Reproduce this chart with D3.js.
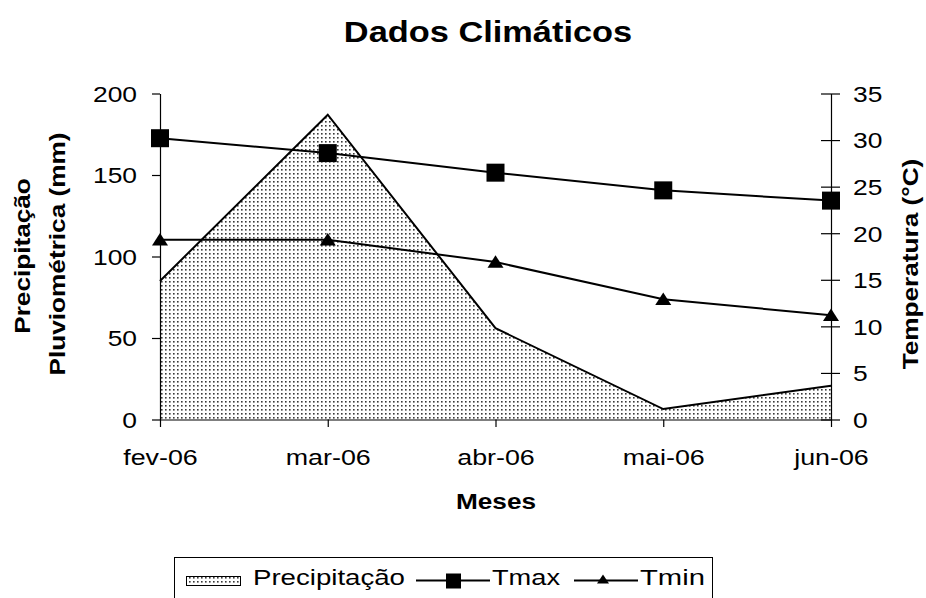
<!DOCTYPE html>
<html>
<head>
<meta charset="utf-8">
<script src="https://cdn.jsdelivr.net/npm/d3@7"></script>
<style>
  html, body { margin: 0; padding: 0; background: #fff; }
  svg { display: block; font-family: "Liberation Sans", Arial, sans-serif; }
</style>
</head>
<body>
<svg id="chart" width="926" height="598"></svg>
<script>
// Monthly climate data
const months = ["fev-06", "mar-06", "abr-06", "mai-06", "jun-06"];
const precipitacao = [85, 187, 56, 6.4, 20.7];     // mm
const tmax = [30.2, 28.6, 26.5, 24.6, 23.5];       // °C
const tmin = [19.3, 19.3, 16.9, 12.9, 11.2];       // °C
const precipTicks = [0, 50, 100, 150, 200];
const tempTicks = [0, 5, 10, 15, 20, 25, 30, 35];

const svg = d3.select("#chart");
const plotLeft = 160, plotRight = 831, plotTop = 93.5, plotBottom = 419.5;

const x = d3.scalePoint().domain(months).range([plotLeft, plotRight]).padding(0);
const yP = d3.scaleLinear().domain([0, 200]).range([plotBottom, plotTop]);
const yT = d3.scaleLinear().domain([0, 35]).range([plotBottom, plotTop]);

// Widen glyphs along the text direction
function stretch(sel, s, rot) {
  sel.each(function () {
    const t = d3.select(this);
    const tx = +t.attr("x") || 0, ty = +t.attr("y") || 0;
    t.attr("x", 0).attr("y", 0)
     .attr("transform", `translate(${tx},${ty})` + (rot ? ` rotate(${rot})` : "") + ` scale(${s},1)`);
  });
}

// Dotted fill pattern
const defs = svg.append("defs");
const pat = defs.append("pattern").attr("id", "dots")
  .attr("patternUnits", "userSpaceOnUse").attr("width", 4).attr("height", 4);
pat.append("rect").attr("width", 4).attr("height", 4).attr("fill", "#fff");
pat.append("rect").attr("x", 1).attr("y", 1).attr("width", 1.6).attr("height", 1.6).attr("fill", "#3a3a3a");

// Title
svg.append("text").attr("x", 488).attr("y", 41.5)
  .attr("text-anchor", "middle").attr("font-size", 30).attr("font-weight", "bold")
  .text("Dados Climáticos").call(stretch, 1.146);

// Precipitation area
const area = d3.area().x((d, i) => x(months[i])).y0(plotBottom).y1(d => yP(d));
svg.append("path").datum(precipitacao).attr("d", area).attr("fill", "url(#dots)");
const topLine = d3.line().x((d, i) => x(months[i])).y(d => yP(d));
svg.append("path").datum(precipitacao).attr("d", topLine)
  .attr("fill", "none").attr("stroke", "#000").attr("stroke-width", 2);

// Axes
const axisStyle = g => {
  g.selectAll("path.domain").attr("stroke", "#000").attr("stroke-width", 1.2);
  g.selectAll(".tick line").attr("stroke", "#000").attr("stroke-width", 1.2);
  g.selectAll("text").attr("fill", "#000").attr("font-size", 22)
    .attr("font-family", "'Liberation Sans', Arial, sans-serif");
};

const gL = svg.append("g").attr("transform", `translate(${plotLeft},0)`)
  .call(d3.axisLeft(yP).tickValues(precipTicks).tickSize(8).tickSizeOuter(0).tickPadding(15))
  .call(axisStyle);
gL.selectAll(".tick text").attr("dy", null).attr("y", 7.8).call(stretch, 1.2);

const gR = svg.append("g").attr("transform", `translate(${plotRight},0)`)
  .call(d3.axisRight(yT).tickValues(tempTicks).tickSize(9).tickSizeOuter(0).tickPadding(13))
  .call(axisStyle);
gR.selectAll(".tick line").attr("x1", -10);
gR.selectAll(".tick text").attr("dy", null).attr("y", 7.8).call(stretch, 1.2);

const gX = svg.append("g").attr("transform", `translate(0,${plotBottom})`)
  .call(d3.axisBottom(x).tickSize(7.5).tickSizeOuter(0))
  .call(axisStyle);
gX.selectAll(".tick text").attr("dy", null).attr("y", 45.5).call(stretch, 1.22);

// Axis titles
svg.append("text").attr("x", 496).attr("y", 509)
  .attr("text-anchor", "middle").attr("font-size", 22).attr("font-weight", "bold")
  .text("Meses").call(stretch, 1.19);
svg.append("text").attr("x", 30).attr("y", 256)
  .attr("text-anchor", "middle").attr("font-size", 22).attr("font-weight", "bold")
  .text("Precipitação").call(stretch, 1.19, -90);
svg.append("text").attr("x", 65).attr("y", 254)
  .attr("text-anchor", "middle").attr("font-size", 22).attr("font-weight", "bold")
  .text("Pluviométrica (mm)").call(stretch, 1.19, -90);
svg.append("text").attr("x", 918).attr("y", 264)
  .attr("text-anchor", "middle").attr("font-size", 22).attr("font-weight", "bold")
  .text("Temperatura (°C)").call(stretch, 1.19, -90);

// Temperature lines with markers
const tLine = d3.line().x((d, i) => x(months[i])).y(d => yT(d));
const tri = (cx, cy, w, h) => `M${cx},${cy - h / 2}L${cx + w / 2},${cy + h / 2}L${cx - w / 2},${cy + h / 2}Z`;

svg.append("path").datum(tmax).attr("d", tLine)
  .attr("fill", "none").attr("stroke", "#000").attr("stroke-width", 2);
svg.append("path").datum(tmin).attr("d", tLine)
  .attr("fill", "none").attr("stroke", "#000").attr("stroke-width", 2);

svg.selectAll("rect.tmax").data(tmax).join("rect").attr("class", "tmax")
  .attr("x", (d, i) => x(months[i]) - 9).attr("y", d => yT(d) - 9)
  .attr("width", 18).attr("height", 18).attr("fill", "#000");
svg.selectAll("path.tmin").data(tmin).join("path").attr("class", "tmin")
  .attr("d", (d, i) => tri(x(months[i]), yT(d) - 0.5, 16, 12.5)).attr("fill", "#000");

// Legend
const lg = svg.append("g");
lg.append("rect").attr("x", 174.5).attr("y", 557.5).attr("width", 538).attr("height", 50)
  .attr("fill", "#fff").attr("stroke", "#000").attr("stroke-width", 1);
lg.append("rect").attr("x", 186.5).attr("y", 576.5).attr("width", 54).attr("height", 9)
  .attr("fill", "url(#dots)").attr("stroke", "#000").attr("stroke-width", 1);
lg.append("text").attr("x", 253).attr("y", 585).attr("font-size", 22)
  .attr("textLength", 152).attr("lengthAdjust", "spacingAndGlyphs").text("Precipitação");
lg.append("line").attr("x1", 416).attr("x2", 490).attr("y1", 580.5).attr("y2", 580.5)
  .attr("stroke", "#000").attr("stroke-width", 2);
lg.append("rect").attr("x", 446).attr("y", 573.5).attr("width", 15).attr("height", 15).attr("fill", "#000");
lg.append("text").attr("x", 492).attr("y", 585).attr("font-size", 22)
  .attr("textLength", 68).attr("lengthAdjust", "spacingAndGlyphs").text("Tmax");
lg.append("line").attr("x1", 574).attr("x2", 638).attr("y1", 580.5).attr("y2", 580.5)
  .attr("stroke", "#000").attr("stroke-width", 2);
lg.append("path").attr("d", tri(603, 579, 12, 9)).attr("fill", "#000");
lg.append("text").attr("x", 640).attr("y", 585).attr("font-size", 22)
  .attr("textLength", 65).attr("lengthAdjust", "spacingAndGlyphs").text("Tmin");
</script>
</body>
</html>
